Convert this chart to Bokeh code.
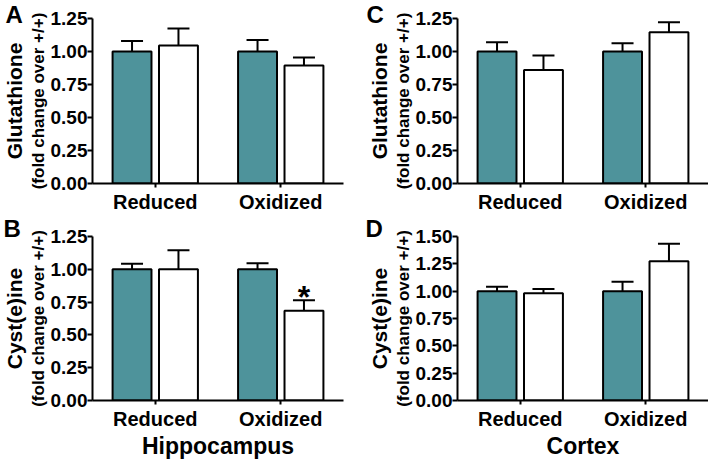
from bokeh.plotting import figure
from bokeh.models import (ColumnDataSource, FactorRange, Range1d, Whisker, TeeHead,
                          Title, SingleIntervalTicker, NumeralTickFormatter)
from bokeh.transform import dodge
from bokeh.layouts import gridplot
from bokeh.embed import file_html
from bokeh.resources import INLINE
from bokeh.core.properties import value

# ---------------- data ----------------
categories = ["Reduced", "Oxidized"]

# A: Hippocampus glutathione
a_wt = [1.00, 1.00]
a_wt_sem = [0.08, 0.087]
a_ko = [1.045, 0.893]
a_ko_sem = [0.13, 0.062]

# B: Hippocampus cyst(e)ine
b_wt = [1.00, 1.00]
b_wt_sem = [0.043, 0.046]
b_ko = [1.00, 0.685]
b_ko_sem = [0.145, 0.08]
b_sig = ["", "*"]

# C: Cortex glutathione
c_wt = [1.00, 1.00]
c_wt_sem = [0.07, 0.062]
c_ko = [0.86, 1.145]
c_ko_sem = [0.11, 0.077]

# D: Cortex cyst(e)ine
d_wt = [1.00, 1.00]
d_wt_sem = [0.04, 0.085]
d_ko = [0.98, 1.273]
d_ko_sem = [0.04, 0.16]

TEAL = "#4E939B"
FONT = "Liberation Sans"


def panel(letter, ylab, wt, wt_sem, ko, ko_sem, ymax, width, height,
          bl, br, bt, bb, letter_dx, letter_standoff, xlabel=None, sig=None):
    xr = FactorRange(*categories, range_padding=0)
    p = figure(x_range=xr, y_range=Range1d(0, ymax), width=width, height=height,
               output_backend="svg", toolbar_location=None,
               min_border_left=bl, min_border_right=br,
               min_border_top=bt, min_border_bottom=bb)
    p.outline_line_color = None
    p.xgrid.grid_line_color = None
    p.ygrid.grid_line_color = None
    p.background_fill_color = "white"
    p.border_fill_color = "white"

    src = ColumnDataSource(dict(
        cat=categories, wt=wt, ko=ko,
        wt_up=[m + s for m, s in zip(wt, wt_sem)],
        ko_up=[m + s for m, s in zip(ko, ko_sem)],
    ))
    off = 0.185
    bw = 0.31
    for col, up, o in (("wt", "wt_up", -off), ("ko", "ko_up", off)):
        w = Whisker(source=src, base=dodge("cat", o, range=xr), lower=col, upper=up,
                    dimension="height", line_width=2, line_color="black",
                    upper_head=TeeHead(size=22, line_width=2, line_color="black"),
                    lower_head=None)
        p.add_layout(w)
    p.vbar(x=dodge("cat", -off, range=xr), top="wt", width=bw, source=src,
           fill_color=TEAL, line_color="black", line_width=2)
    p.vbar(x=dodge("cat", off, range=xr), top="ko", width=bw, source=src,
           fill_color="white", line_color="black", line_width=2)

    if sig is not None:
        ssrc = ColumnDataSource(dict(cat=categories, y=src.data["ko_up"], t=sig))
        p.text(x=dodge("cat", off, range=xr), y="y", text="t", source=ssrc,
               y_offset=-3, text_align="center", text_baseline="alphabetic",
               text_font=value(FONT), text_font_style="bold", text_font_size="32px",
               text_color="black")

    # axes
    p.yaxis.ticker = SingleIntervalTicker(interval=0.25, num_minor_ticks=0)
    p.yaxis.formatter = NumeralTickFormatter(format="0.00")
    for ax in (p.xaxis[0], p.yaxis[0]):
        ax.axis_line_width = 2
        ax.axis_line_color = "black"
        ax.major_tick_line_width = 2
        ax.major_tick_line_color = "black"
        ax.major_tick_in = 0
        ax.minor_tick_line_color = None
        ax.major_label_text_font = FONT
        ax.major_label_text_font_style = "bold"
        ax.major_label_text_color = "black"
        ax.axis_label_text_font = FONT
        ax.axis_label_text_font_style = "bold"
        ax.axis_label_text_color = "black"
    p.yaxis.major_tick_out = 5
    p.yaxis.major_label_standoff = 0
    p.yaxis.major_label_text_font_size = "19px"
    p.yaxis.axis_label = "(fold change over +/+)"
    p.yaxis.axis_label_text_font_size = "17px"
    p.yaxis.axis_label_standoff = 0
    p.xaxis.major_tick_out = 4
    p.xaxis.major_label_standoff = 3
    p.xaxis.major_label_text_font_size = "20px"
    if xlabel:
        p.xaxis.axis_label = xlabel
        p.xaxis.axis_label_text_font_size = "23px"
        p.xaxis.axis_label_standoff = 0

    p.add_layout(Title(text=ylab, align="center", standoff=0,
                       text_font=FONT, text_font_style="bold",
                       text_font_size="21px", text_color="black"), "left")

    p.add_layout(Title(text=letter, align="left", vertical_align="bottom",
                       offset=letter_dx, standoff=letter_standoff,
                       text_font=FONT, text_font_style="bold",
                       text_font_size="24px", text_color="black"), "above")
    return p


pA = panel("A", "Glutathione", a_wt, a_wt_sem, a_ko, a_ko_sem, 1.25,
           355, 215, 90, 12, 18, 30, -87, -19)
pC = panel("C", "Glutathione", c_wt, c_wt_sem, c_ko, c_ko_sem, 1.25,
           353, 215, 101, 0, 18, 30, -91, -19)
pB = panel("B", "Cyst(e)ine", b_wt, b_wt_sem, b_ko, b_ko_sem, 1.25,
           355, 246, 92, 12, 21, 58, -89, -11, xlabel="Hippocampus", sig=b_sig)
pD = panel("D", "Cyst(e)ine", d_wt, d_wt_sem, d_ko, d_ko_sem, 1.50,
           353, 246, 102, 0, 21, 58, -92, -11, xlabel="Cortex")

grid = gridplot([[pA, pC], [pB, pD]], toolbar_location=None)

open("out.html", "w").write(file_html(grid, INLINE))
